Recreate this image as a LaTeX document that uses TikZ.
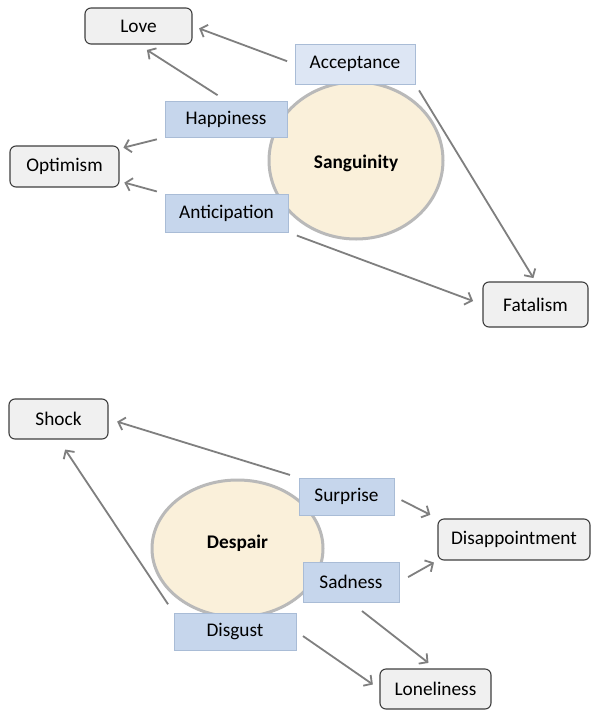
\documentclass[tikz,border=0pt]{standalone}
\usepackage{fontspec}
\setmainfont{Carlito}
\usetikzlibrary{arrows.meta,shapes.geometric}

\definecolor{boxblue}{HTML}{C6D6EC}
\definecolor{boxline}{HTML}{A9BCD6}
\definecolor{moodfill}{HTML}{FAF0DA}
\definecolor{moodline}{HTML}{B9B9B9}
\definecolor{outfill}{HTML}{F0F0F0}
\definecolor{outline}{HTML}{3F3F3F}
\definecolor{linkgray}{HTML}{7F7F7F}

\tikzset{
    every node/.style={font=\fontsize{19.3}{23}\selectfont, inner sep=0pt},
    mood/.style={ellipse, fill=moodfill, draw=moodline, line width=3pt, font=\fontsize{19.3}{23}\selectfont\bfseries},
    emotion/.style={rectangle, fill=boxblue, draw=boxline, line width=0.8pt},
    outcome/.style={rectangle, rounded corners=6pt, fill=outfill, draw=outline, line width=1.1pt},
    link/.style={draw=linkgray, line width=1.8pt, -{Straight Barb[length=6pt,width=13pt]}}
}

\begin{document}
\begin{tikzpicture}[x=1pt,y=-1pt]
    \useasboundingbox [fill=white] (0,0) rectangle (590,710);

    \node [mood, minimum width=174pt, minimum height=157pt] (sanguinity) at (356,160.5) {};
    \node at (356,163) {\bfseries Sanguinity};

    \node [emotion, fill=boxblue!60!white, minimum width=120pt, minimum height=40pt] (acceptance) at (355,64) {Acceptance};
    \node [emotion, minimum width=122pt, minimum height=36pt] (happiness) at (226,119) {Happiness};
    \node [emotion, minimum width=123pt, minimum height=38pt] (anticipation) at (226.5,213) {Anticipation};

    \node [outcome, minimum width=107pt, minimum height=36pt] (love) at (138.5,26) {Love};
    \node [outcome, minimum width=109pt, minimum height=41pt] (optimism) at (64.5,166.5) {Optimism};
    \node [outcome, minimum width=105pt, minimum height=45pt] (fatalism) at (535.5,304.5) {Fatalism};

    \draw [link, shorten <=8pt, shorten >=7pt] (acceptance.west) -- (love.east);
    \draw [link, shorten <=10pt, shorten >=10pt] (happiness.north) -- (love.south);
    \draw [link, shorten <=8pt, shorten >=4pt] (happiness.south west) -- (optimism.18);
    \draw [link, shorten <=8pt, shorten >=5pt] (anticipation.north west) -- (optimism.-15);
    \draw [link, shorten <=7pt, shorten >=4pt] (acceptance.south east) -- (fatalism.north);
    \draw [link, shorten <=9pt, shorten >=10pt] (anticipation.south east) -- (fatalism.west);

    \node [mood, minimum width=171pt, minimum height=137pt] (despair) at (237.5,548.5) {};
    \node at (237.5,543) {\bfseries Despair};

    \node [emotion, minimum width=95pt, minimum height=37pt] (surprise) at (346.5,496.5) {Surprise};
    \node [emotion, minimum width=96pt, minimum height=40pt] (sadness) at (351,582) {Sadness};
    \node [emotion, minimum width=122pt, minimum height=37pt] (disgust) at (235,631.5) {Disgust};

    \node [outcome, minimum width=99pt, minimum height=40pt] (shock) at (58.5,419) {Shock};
    \node [outcome, minimum width=152pt, minimum height=41pt] (disappointment) at (514,539.5) {Disappointment};
    \node [outcome, minimum width=111pt, minimum height=40pt] (loneliness) at (435.5,689) {Loneliness};

    \draw [link, shorten <=9pt, shorten >=9pt] (surprise.north west) -- (shock.east);
    \draw [link, shorten <=10pt, shorten >=12pt] (disgust.north west) -- (shock.south);
    \draw [link, shorten <=8pt, shorten >=8pt] (surprise.east) -- (disappointment.north west);
    \draw [link, shorten <=10pt, shorten >=4pt] (sadness.east) -- (disappointment.south west);
    \draw [link, shorten <=14pt, shorten >=9pt] (sadness.south) -- (loneliness.north);
    \draw [link, shorten <=8pt, shorten >=8pt] (disgust.east) -- (loneliness.west);
\end{tikzpicture}
\end{document}
